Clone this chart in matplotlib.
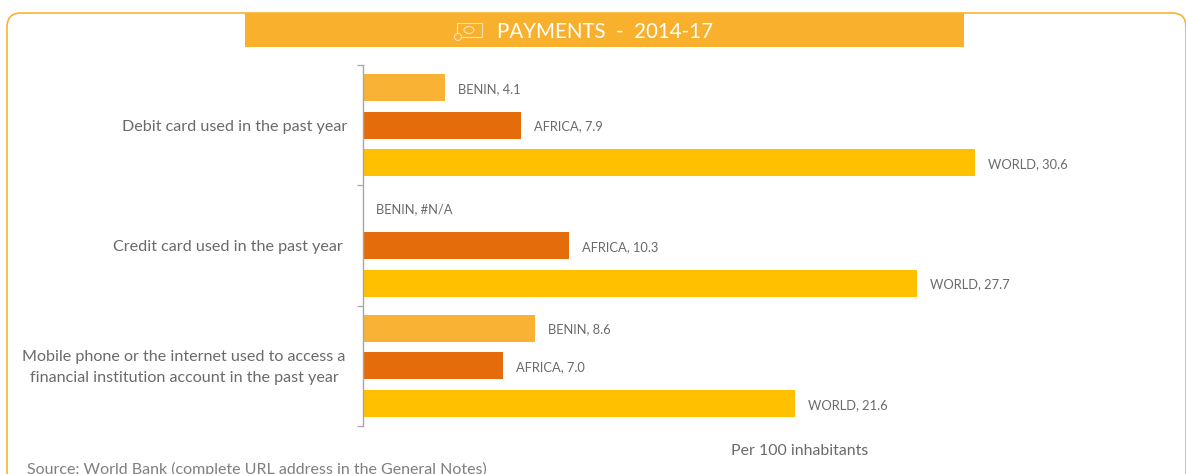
import matplotlib
matplotlib.use("Agg")
import matplotlib.pyplot as plt
from matplotlib.patches import FancyBboxPatch, Rectangle, Ellipse, Circle

plt.rcParams['font.family'] = ['Lato', 'DejaVu Sans']

W, H = 1186, 474
categories = ["Debit card used in the past year",
              "Credit card used in the past year",
              "Mobile phone or the internet used to access a\nfinancial institution account in the past year"]
benin = [4.1, None, 8.6]
africa = [7.9, 10.3, 7.0]
world = [30.6, 27.7, 21.6]
series_names = ["BENIN", "AFRICA", "WORLD"]
colors = ["#F9B233", "#E46C0A", "#FFC000"]
title = "PAYMENTS  -  2014-17"
unit_label = "Per 100 inhabitants"
source = "Source: World Bank (complete URL address in the General Notes)"

TXT = "#7F7F7F"
LAB = "#6A6A6A"

fig = plt.figure(figsize=(W / 100, H / 100), dpi=100, facecolor="white")

# full-figure pixel overlay
bg = fig.add_axes([0, 0, 1, 1], zorder=0)
bg.set_xlim(0, W); bg.set_ylim(H, 0); bg.axis("off")
bg.add_patch(FancyBboxPatch((7, 13), W + 10 - 7 - 10, H + 20, boxstyle="round,pad=0,rounding_size=14",
                            fc="none", ec="#F9AE20", lw=1.1, clip_on=True))
bg.add_patch(Rectangle((245, 13), 719, 34, fc="#F9B02C", ec="none"))
bg.text(497, 32, title, color="white", fontsize=14.8, va="center", ha="left")
# banknote icon
ic = "#FBE3B4"
bg.add_patch(Rectangle((457, 23), 25, 14, fc="none", ec=ic, lw=0.8))
bg.add_patch(Ellipse((469, 30), 10, 7, fc="none", ec=ic, lw=0.8))
bg.add_patch(Circle((458, 37), 3.5, fc="#F9B02C", ec=ic, lw=0.8))
bg.text(27, 469, source, color=TXT, fontsize=11.55, va="center", ha="left")
bg.text(800, 451, unit_label, color=LAB, fontsize=11.4, va="center", ha="center")

# chart axes
left, right, top, bottom = 363, 1163, 65, 426
ax = fig.add_axes([left / W, 1 - bottom / H, (right - left) / W, (bottom - top) / H], zorder=1)
ax.patch.set_alpha(0)
ax.set_xlim(0, 40)
ax.set_ylim(2.5, -0.5)
off = 0.313
bh = 0.222
for g in range(3):
    for s, (vals, c, nm, d) in enumerate(zip((benin, africa, world), colors, series_names, (-off, 0, off))):
        v = vals[g]
        y = g + d
        if v is None:
            ax.text(0.65, y + 0.01, f"{nm}, #N/A", color=LAB, fontsize=9.3, va="center", ha="left")
            continue
        ax.barh(y, v, height=bh, color=c, linewidth=0)
        ax.text(v + 0.65, y + 0.012, f"{nm}, {v:.1f}", color=LAB, fontsize=9.3, va="center", ha="left")

for s in ("top", "right", "bottom"):
    ax.spines[s].set_visible(False)
ax.spines["left"].set_color("#A6A6A6")
ax.spines["left"].set_linewidth(1.0)
ax.set_xticks([])
ax.set_yticks([-0.5, 0.5, 1.5, 2.5])
ax.set_yticklabels([])
ax.tick_params(axis="y", length=4, width=0.9, color="#A6A6A6")

# category labels, centred on their own anchor points
for g, (lab, cx) in enumerate(zip(categories, (235, 228, 184))):
    bg.text(cx, [126.5, 247, 367.5][g], lab, color=LAB, fontsize=11.6, va="center", ha="center", linespacing=1.55)

fig.savefig("out.png", dpi=100)
